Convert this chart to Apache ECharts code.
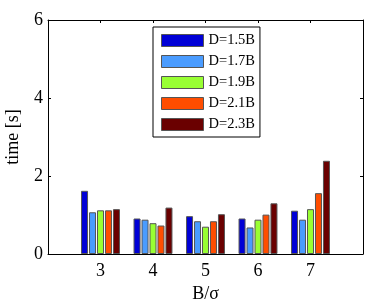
<!DOCTYPE html>
<html><head><meta charset="utf-8">
<script src="https://cdn.jsdelivr.net/npm/echarts@6/dist/echarts.min.js"></script>
<style>html,body{margin:0;padding:0;background:#fff}#c{width:374px;height:303px}</style>
</head><body><div id="c"></div>
<script>
const categories = [3, 4, 5, 6, 7];
const seriesNames = ['D=1.5B', 'D=1.7B', 'D=1.9B', 'D=2.1B', 'D=2.3B'];
const d15 = [1.62, 0.91, 0.97, 0.91, 1.11];
const d17 = [1.07, 0.88, 0.84, 0.68, 0.88];
const d19 = [1.12, 0.79, 0.70, 0.88, 1.15];
const d21 = [1.12, 0.73, 0.84, 1.01, 1.56];
const d23 = [1.15, 1.19, 1.02, 1.30, 2.39];
const yTicks = [0, 2, 4, 6];
const colors = ['#0000d6', '#4a9cff', '#99ff33', '#ff4d00', '#6a0000'];
const allData = [d15, d17, d19, d21, d23];

const font = 'Liberation Serif';
const chart = echarts.init(document.getElementById('c'));
const xCommon = {
  type: 'value', min: 2, max: 8, interval: 1,
  axisLine: {show: true, onZero: false, lineStyle: {color: '#000', width: 1}},
  axisTick: {show: true, inside: true, length: 3, lineStyle: {color: '#000'},
    customValues: categories},
  splitLine: {show: false}
};
const yCommon = {
  type: 'value', min: 0, max: 6, interval: 2,
  axisLine: {show: true, onZero: false, lineStyle: {color: '#000', width: 1}},
  axisTick: {show: true, inside: true, length: 3, lineStyle: {color: '#000'}},
  splitLine: {show: false}
};
chart.setOption({
  animation: false,
  backgroundColor: '#fff',
  grid: {left: 48, right: 11, top: 20, bottom: 49, containLabel: false, outerBoundsMode: 'none'},
  legend: {
    orient: 'vertical', left: 153, top: 27,
    icon: 'rect',
    itemWidth: 42, itemHeight: 12, itemGap: 6,
    padding: [6, 5, 5, 8],
    backgroundColor: '#fff', borderColor: '#000', borderWidth: 1,
    textStyle: {fontFamily: font, fontSize: 14.5, color: '#000', padding: [0,0,0,0]},
    data: seriesNames,
    itemStyle: {borderColor: '#555', borderWidth: 1}
  },
  xAxis: [
    Object.assign({}, xCommon, {
      position: 'bottom', name: 'B/σ', nameLocation: 'middle', nameGap: 28,
      nameTextStyle: {fontFamily: font, fontSize: 18, color: '#000'},
      axisLabel: {fontFamily: font, fontSize: 18, color: '#000', margin: 8,
        customValues: categories}
    }),
    Object.assign({}, xCommon, {position: 'top', axisLabel: {show: false}})
  ],
  yAxis: [
    Object.assign({}, yCommon, {
      position: 'left', name: 'time [s]', nameLocation: 'middle', nameGap: 26,
      nameTextStyle: {fontFamily: font, fontSize: 18, color: '#000'},
      axisLabel: {fontFamily: font, fontSize: 18, color: '#000', margin: 5,
        customValues: yTicks}
    }),
    Object.assign({}, yCommon, {position: 'right', axisLabel: {show: false}})
  ],
  series: seriesNames.map((n, i) => ({
    name: n, type: 'bar', xAxisIndex: 0, yAxisIndex: 0,
    barWidth: 7, barGap: '14%',
    itemStyle: {color: colors[i], borderColor: '#555', borderWidth: 1},
    data: categories.map((c, j) => [c, allData[i][j]])
  }))
});
</script></body></html>
